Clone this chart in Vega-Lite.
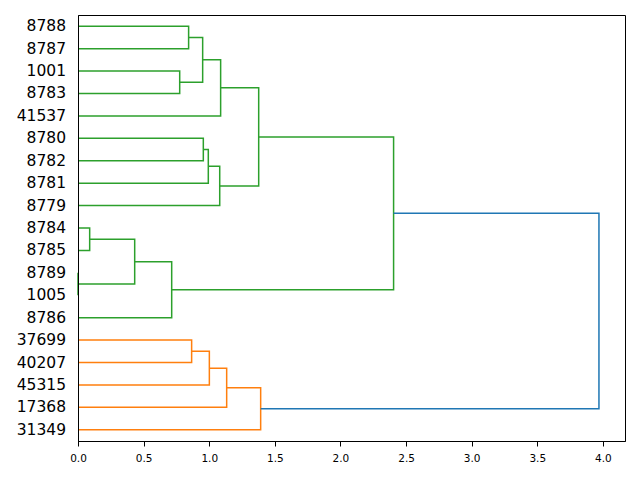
{
  "$schema": "https://vega.github.io/schema/vega-lite/v6.json",
  "width": 547,
  "height": 426,
  "autosize": "none",
  "padding": {"left": 78, "top": 15, "right": 15, "bottom": 39},
  "background": "white",
  "config": {
    "font": "DejaVu Sans",
    "view": {"stroke": "black", "strokeWidth": 1}
  },
  "datasets": {
    "links": [
      {"link": 1, "cluster": "orange", "ord": 1, "h": 0, "pos": 45},
      {"link": 1, "cluster": "orange", "ord": 2, "h": 0.866, "pos": 45},
      {"link": 1, "cluster": "orange", "ord": 3, "h": 0.866, "pos": 35},
      {"link": 1, "cluster": "orange", "ord": 4, "h": 0, "pos": 35},
      {"link": 2, "cluster": "orange", "ord": 1, "h": 0.866, "pos": 40},
      {"link": 2, "cluster": "orange", "ord": 2, "h": 1.001, "pos": 40},
      {"link": 2, "cluster": "orange", "ord": 3, "h": 1.001, "pos": 25},
      {"link": 2, "cluster": "orange", "ord": 4, "h": 0, "pos": 25},
      {"link": 3, "cluster": "orange", "ord": 1, "h": 1.001, "pos": 32.5},
      {"link": 3, "cluster": "orange", "ord": 2, "h": 1.133, "pos": 32.5},
      {"link": 3, "cluster": "orange", "ord": 3, "h": 1.133, "pos": 15},
      {"link": 3, "cluster": "orange", "ord": 4, "h": 0, "pos": 15},
      {"link": 4, "cluster": "orange", "ord": 1, "h": 1.133, "pos": 23.75},
      {"link": 4, "cluster": "orange", "ord": 2, "h": 1.392, "pos": 23.75},
      {"link": 4, "cluster": "orange", "ord": 3, "h": 1.392, "pos": 5},
      {"link": 4, "cluster": "orange", "ord": 4, "h": 0, "pos": 5},
      {"link": 5, "cluster": "green", "ord": 1, "h": 0, "pos": 95},
      {"link": 5, "cluster": "green", "ord": 2, "h": 0.089, "pos": 95},
      {"link": 5, "cluster": "green", "ord": 3, "h": 0.089, "pos": 85},
      {"link": 5, "cluster": "green", "ord": 4, "h": 0, "pos": 85},
      {"link": 6, "cluster": "green", "ord": 1, "h": 0, "pos": 75},
      {"link": 6, "cluster": "green", "ord": 2, "h": 0, "pos": 75},
      {"link": 6, "cluster": "green", "ord": 3, "h": 0, "pos": 65},
      {"link": 6, "cluster": "green", "ord": 4, "h": 0, "pos": 65},
      {"link": 7, "cluster": "green", "ord": 1, "h": 0.089, "pos": 90},
      {"link": 7, "cluster": "green", "ord": 2, "h": 0.432, "pos": 90},
      {"link": 7, "cluster": "green", "ord": 3, "h": 0.432, "pos": 70},
      {"link": 7, "cluster": "green", "ord": 4, "h": 0, "pos": 70},
      {"link": 8, "cluster": "green", "ord": 1, "h": 0.432, "pos": 80},
      {"link": 8, "cluster": "green", "ord": 2, "h": 0.714, "pos": 80},
      {"link": 8, "cluster": "green", "ord": 3, "h": 0.714, "pos": 55},
      {"link": 8, "cluster": "green", "ord": 4, "h": 0, "pos": 55},
      {"link": 9, "cluster": "green", "ord": 1, "h": 0, "pos": 135},
      {"link": 9, "cluster": "green", "ord": 2, "h": 0.955, "pos": 135},
      {"link": 9, "cluster": "green", "ord": 3, "h": 0.955, "pos": 125},
      {"link": 9, "cluster": "green", "ord": 4, "h": 0, "pos": 125},
      {"link": 10, "cluster": "green", "ord": 1, "h": 0.955, "pos": 130},
      {"link": 10, "cluster": "green", "ord": 2, "h": 0.993, "pos": 130},
      {"link": 10, "cluster": "green", "ord": 3, "h": 0.993, "pos": 115},
      {"link": 10, "cluster": "green", "ord": 4, "h": 0, "pos": 115},
      {"link": 11, "cluster": "green", "ord": 1, "h": 0.993, "pos": 122.5},
      {"link": 11, "cluster": "green", "ord": 2, "h": 1.08, "pos": 122.5},
      {"link": 11, "cluster": "green", "ord": 3, "h": 1.08, "pos": 105},
      {"link": 11, "cluster": "green", "ord": 4, "h": 0, "pos": 105},
      {"link": 12, "cluster": "green", "ord": 1, "h": 0, "pos": 185},
      {"link": 12, "cluster": "green", "ord": 2, "h": 0.843, "pos": 185},
      {"link": 12, "cluster": "green", "ord": 3, "h": 0.843, "pos": 175},
      {"link": 12, "cluster": "green", "ord": 4, "h": 0, "pos": 175},
      {"link": 13, "cluster": "green", "ord": 1, "h": 0, "pos": 165},
      {"link": 13, "cluster": "green", "ord": 2, "h": 0.775, "pos": 165},
      {"link": 13, "cluster": "green", "ord": 3, "h": 0.775, "pos": 155},
      {"link": 13, "cluster": "green", "ord": 4, "h": 0, "pos": 155},
      {"link": 14, "cluster": "green", "ord": 1, "h": 0.843, "pos": 180},
      {"link": 14, "cluster": "green", "ord": 2, "h": 0.95, "pos": 180},
      {"link": 14, "cluster": "green", "ord": 3, "h": 0.95, "pos": 160},
      {"link": 14, "cluster": "green", "ord": 4, "h": 0.775, "pos": 160},
      {"link": 15, "cluster": "green", "ord": 1, "h": 0.95, "pos": 170},
      {"link": 15, "cluster": "green", "ord": 2, "h": 1.087, "pos": 170},
      {"link": 15, "cluster": "green", "ord": 3, "h": 1.087, "pos": 145},
      {"link": 15, "cluster": "green", "ord": 4, "h": 0, "pos": 145},
      {"link": 16, "cluster": "green", "ord": 1, "h": 1.087, "pos": 157.5},
      {"link": 16, "cluster": "green", "ord": 2, "h": 1.377, "pos": 157.5},
      {"link": 16, "cluster": "green", "ord": 3, "h": 1.377, "pos": 113.75},
      {"link": 16, "cluster": "green", "ord": 4, "h": 1.08, "pos": 113.75},
      {"link": 17, "cluster": "green", "ord": 1, "h": 1.377, "pos": 135.625},
      {"link": 17, "cluster": "green", "ord": 2, "h": 2.405, "pos": 135.625},
      {"link": 17, "cluster": "green", "ord": 3, "h": 2.405, "pos": 67.5},
      {"link": 17, "cluster": "green", "ord": 4, "h": 0.714, "pos": 67.5},
      {"link": 18, "cluster": "blue", "ord": 1, "h": 2.405, "pos": 101.5625},
      {"link": 18, "cluster": "blue", "ord": 2, "h": 3.97, "pos": 101.5625},
      {"link": 18, "cluster": "blue", "ord": 3, "h": 3.97, "pos": 14.375},
      {"link": 18, "cluster": "blue", "ord": 4, "h": 1.392, "pos": 14.375}
    ],
    "leaves": [
      {"leaf": "31349", "pos": 5},
      {"leaf": "17368", "pos": 15},
      {"leaf": "45315", "pos": 25},
      {"leaf": "40207", "pos": 35},
      {"leaf": "37699", "pos": 45},
      {"leaf": "8786", "pos": 55},
      {"leaf": "1005", "pos": 65},
      {"leaf": "8789", "pos": 75},
      {"leaf": "8785", "pos": 85},
      {"leaf": "8784", "pos": 95},
      {"leaf": "8779", "pos": 105},
      {"leaf": "8781", "pos": 115},
      {"leaf": "8782", "pos": 125},
      {"leaf": "8780", "pos": 135},
      {"leaf": "41537", "pos": 145},
      {"leaf": "8783", "pos": 155},
      {"leaf": "1001", "pos": 165},
      {"leaf": "8787", "pos": 175},
      {"leaf": "8788", "pos": 185}
    ]
  },
  "layer": [
    {
      "data": {"name": "links"},
      "mark": {"type": "line", "strokeWidth": 1.5, "interpolate": "linear"},
      "encoding": {
        "x": {
          "field": "h", "type": "quantitative",
          "scale": {"domain": [0, 4.1685], "nice": false, "zero": false},
          "axis": {
            "title": null, "values": [0, 0.5, 1, 1.5, 2, 2.5, 3, 3.5, 4],
            "format": ".1f", "grid": false, "labelFontSize": 10.5,
            "labelColor": "black", "tickColor": "black", "domainColor": "black",
            "tickSize": 5, "labelPadding": 7, "labelFlush": false, "zindex": 1
          }
        },
        "y": {
          "field": "pos", "type": "quantitative",
          "scale": {"domain": [0, 190], "nice": false, "zero": false},
          "axis": {
            "title": null, "labels": false, "ticks": false, "grid": false,
            "domain": true, "domainColor": "black", "zindex": 1
          }
        },
        "detail": {"field": "link"},
        "order": {"field": "ord"},
        "color": {
          "field": "cluster", "type": "nominal",
          "scale": {"domain": ["orange", "green", "blue"], "range": ["#ff7f0e", "#2ca02c", "#1f77b4"]},
          "legend": null
        }
      }
    },
    {
      "data": {"name": "leaves"},
      "mark": {"type": "text", "align": "right", "baseline": "middle", "dx": -12, "fontSize": 15.5, "color": "black", "clip": false},
      "encoding": {
        "x": {"datum": 0, "type": "quantitative"},
        "y": {"field": "pos", "type": "quantitative"},
        "text": {"field": "leaf"}
      }
    }
  ]
}
